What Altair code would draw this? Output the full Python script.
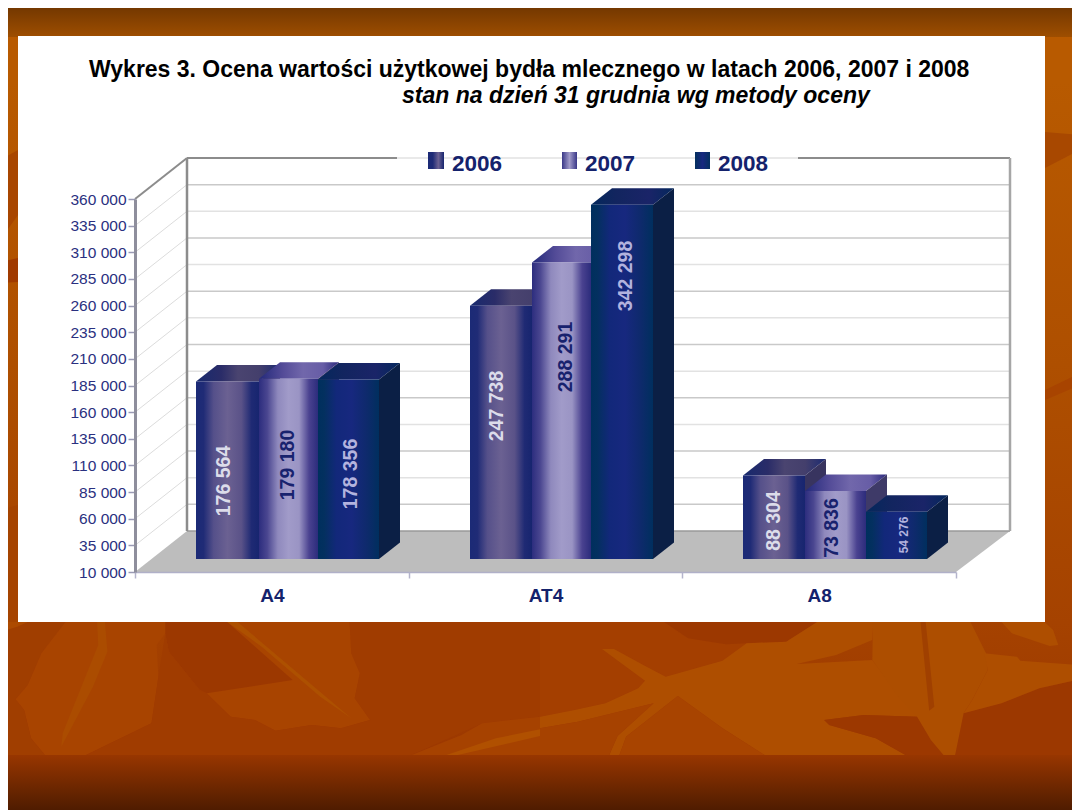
import altair as alt
import pandas as pd

# ---------- values ----------
categories = ["A4", "AT4", "A8"]
years = ["2006", "2007", "2008"]
v2006 = [176564, 247738, 88304]
v2007 = [179180, 288291, 73836]
v2008 = [178356, 342298, 54276]
tick_values = [10000 + 25000 * i for i in range(15)]
title_1 = "Wykres 3. Ocena wartości użytkowej bydła mlecznego w latach 2006, 2007 i 2008"
title_2 = "stan na dzień 31 grudnia wg metody oceny"

# ---------- layout (page pixels) ----------
AX_L, AX_R, AX_T, AX_B = 135, 956, 199, 572
PW, PH = AX_R - AX_L, AX_B - AX_T
K = 350000 / PH                 # value units per pixel
WALL_DX, WALL_DY = 52, 41
BAR_LEFT = [[196, 470, 743], [259, 532, 805], [318, 591, 866]]
BAR_RIGHT = [[259, 532, 805], [318, 591, 866], [379, 653, 927]]
LABEL_X = [[224, 497, 774], [288, 566, 832], [351, 626, 904]]
LABEL_Y = [[481, 406, 521], [465, 357, 528], [474, 276, 535]]
DX, DY = 21, 16.5
FRONT = 13
SANS = "Liberation Sans"


def yval(py):
    return 10000 + (AX_B - py) * K


def grad(stops, vertical=False):
    st = [alt.GradientStop(offset=o, color=c) for o, c in stops]
    return alt.Gradient(gradient="linear", stops=st, x1=0, x2=0 if vertical else 1,
                        y1=0, y2=1 if vertical else 0)


face = [
    grad([(0, "#1b2a76"), (.12, "#1f2b76"), (.28, "#55508a"), (.5, "#6b6192"), (.72, "#5a5288"), (.88, "#1f2a74"), (1, "#17256f")]),
    grad([(0, "#2c2d7e"), (.14, "#4a4690"), (.32, "#8f89bd"), (.5, "#a19bc9"), (.68, "#9a94c4"), (.85, "#4a4290"), (1, "#2c2c7c")]),
    grad([(0, "#002f5e"), (.1, "#03305f"), (.3, "#12287a"), (.55, "#17287f"), (.8, "#0e2a6c"), (1, "#002f5e")]),
]
top_face = [
    grad([(0, "#182a6e"), (.3, "#2a2c68"), (.5, "#4a4470"), (.75, "#443f6c"), (1, "#1b2a72")]),
    grad([(0, "#23297a"), (.3, "#544c98"), (.55, "#7167ab"), (.8, "#675da6"), (1, "#2c2a7c")]),
    grad([(0, "#04285c"), (.3, "#12255f"), (.7, "#1a2468"), (1, "#04285c")]),
]
side_face = ["#38345f", "#3e3a68", "#0b1f45"]
label_col = ["#dcdcea", "#18226e", "#b3b3de"]

# ---------- tables ----------
series = [v2006, v2007, v2008]
bars, tops, sides, labels = [], [], [], []
for s, vals in enumerate(series):
    for g, v in enumerate(vals):
        x0, x1 = BAR_LEFT[s][g], BAR_RIGHT[s][g]
        ytop = v + FRONT * K
        ybase = 10000 + FRONT * K
        d = DY * K
        bars.append(dict(s=s, x=x0, x2=x1, y=ytop, y2=ybase, value=v))
        pid = f"{s}-{g}"
        for px_, a, b in [(x0, ytop, ytop), (x0 + DX, ytop + d, ytop), (x1, ytop + d, ytop), (x1 + DX, ytop + d, ytop + d)]:
            tops.append(dict(s=s, id=pid, x=px_, y=a, y2=b))
        for px_, a, b in [(x1, ytop, ybase), (x1 + DX, ytop + d, ybase + d)]:
            sides.append(dict(s=s, id=pid, x=px_, y=a, y2=b))
        labels.append(dict(s=s, x=LABEL_X[s][g], y=yval(LABEL_Y[s][g]),
                           text=f"{v:,}".replace(",", " "),
                           big=0 if v == min(min(r) for r in series) else 1))
bars, tops, sides, labels = map(pd.DataFrame, (bars, tops, sides, labels))

y_axis = alt.Axis(orient="left", values=tick_values, labelFont=SANS, labelFontSize=15.5, labelColor="#2a3080",
                  labelExpr="replace(format(datum.value, ','), ',', ' ')", labelPadding=2,
                  tickColor="#9a9ab4", tickSize=7, tickWidth=1.5, domainColor="#8e8e9c", domainWidth=3,
                  grid=False, zindex=1, title=None)
Y_SCALE = alt.Scale(domain=[10000, 360000], nice=False, zero=False)
X = alt.X("x:Q", scale=alt.Scale(domain=[AX_L, AX_R], nice=False, zero=False), axis=None, title=None)
Y = alt.Y("y:Q", scale=Y_SCALE, axis=y_axis, title=None)


def px(v):
    return alt.value(v - AX_L)


def py(v):
    return alt.value(v - AX_T)


def box(x0, y0, x1, y1, fill):
    return alt.Chart(alt.Data(values=[{}])).mark_rect(color=fill).encode(
        x=px(x0), x2=px(x1), y=py(y0), y2=py(y1))


def poly(points, fill):
    d = "M" + " L".join(f"{a:.1f} {b:.1f}" for a, b in points) + " Z"
    return alt.Chart(alt.Data(values=[{}])).mark_point(
        shape=d, filled=True, fill=fill, size=4, opacity=1, strokeWidth=0
    ).encode(x=px(0), y=py(0))


def z7(pts):
    return [(a * 540 / 1568, 610 + b / 3) for a, b in pts]


def z8(pts):
    return [(540 + a * 540 / 1568, 610 + b / 3) for a, b in pts]


# ---------- slide background ----------
bg = [
    box(0, 0, 1080, 810, grad([(0, "#b85a00"), (.1, "#b85a00"), (.45, "#ae4f00"), (.77, "#a54200"), (.93, "#9c3800"), (1, "#9c3800")], True)),
    poly([(0, 160), (18, 150), (18, 215), (0, 240)], "#a84600"),
    poly([(0, 262), (18, 258), (18, 282), (0, 283)], "#a03a00"),
    poly([(1045, 132), (1080, 135), (1080, 150), (1045, 168)], "#a84800"),
    poly([(1045, 390), (1080, 373), (1080, 385), (1045, 400)], "#a84400"),
    poly([(0, 510), (18, 505), (18, 622), (0, 622)], "#a54400"),
    # bottom, left part
    poly(z7([(190, 36), (120, 130), (80, 225), (45, 268), (70, 300), (90, 385), (130, 435), (250, 435),
             (440, 340), (460, 200), (455, 105), (480, 70), (490, 125), (580, 240), (600, 250), (670, 320),
             (740, 330), (800, 362), (905, 345), (990, 355), (1075, 330), (1030, 265), (1045, 190),
             (1020, 130), (1015, 36)]), "#a84400"),
    poly(z7([(0, 36), (190, 36), (120, 130), (80, 225), (45, 268), (70, 300), (90, 385), (130, 435), (0, 435)]), "#a03e00"),
    poly(z7([(0, 36), (0, 66), (50, 50), (80, 36)]), "#ac4a00"),
    poly(z7([(480, 36), (660, 36), (850, 210), (600, 250), (580, 240), (490, 125), (480, 70)]), "#9c3800"),
    poly(z7([(250, 435), (440, 340), (460, 200), (480, 70), (490, 125), (580, 240), (600, 250), (670, 320), (740, 330),
             (800, 362), (905, 345), (990, 355), (1075, 330), (1030, 265), (1045, 190), (1020, 130), (1015, 36),
             (1568, 36), (1568, 320), (1400, 340), (1190, 437)]), "#a03c00"),
    poly(z7([(282, 36), (305, 36), (312, 125), (270, 230), (178, 410), (182, 370), (285, 105)]), "#ab4c00"),
    poly(z7([(660, 36), (690, 36), (1020, 325), (930, 260), (760, 110)]), "#ad5000"),
    poly(z7([(1568, 320), (1400, 340), (1340, 375), (1190, 437), (1568, 437)]), "#a64200"),
    poly(z7([(1568, 358), (1440, 385), (1290, 437), (1320, 437), (1568, 378)]), "#b05000"),
    # bottom, right part
    poly(z8([(0, 36), (360, 36), (430, 85), (540, 103), (600, 100), (530, 152), (365, 200), (300, 165), (215, 117),
             (180, 117), (305, 212), (285, 235), (190, 280), (100, 300), (0, 320)]), "#a43f00"),
    poly(z8([(360, 36), (805, 36), (715, 95), (600, 100), (540, 103), (430, 85)]), "#9c3800"),
    poly(z8([(0, 320), (100, 300), (190, 280), (285, 235), (305, 212), (180, 117), (215, 117), (300, 165), (365, 200),
             (530, 152), (600, 100), (715, 95), (805, 36), (968, 36), (965, 90), (860, 135), (745, 162), (965, 150),
             (1050, 265), (1100, 320), (940, 315), (825, 330), (840, 345), (975, 385), (1065, 437), (655, 437),
             (530, 355), (400, 258), (250, 380), (230, 437), (200, 437), (225, 378), (330, 280), (110, 335), (0, 355)]),
         "#ae4e00"),
    poly(z8([(0, 355), (110, 335), (330, 280), (225, 378), (200, 437), (0, 437)]), "#a64200"),
    poly(z8([(230, 437), (250, 380), (400, 258), (530, 355), (655, 437)]), "#a84400"),
    poly(z8([(825, 330), (940, 315), (1095, 320), (1140, 395), (1200, 437), (1065, 437), (975, 385), (840, 345)]), "#9c3800"),
    poly(z8([(1230, 310), (1340, 280), (1450, 235), (1568, 208), (1568, 437), (1205, 437), (1218, 340)]), "#9c3800"),
    poly(z8([(967, 36), (1250, 36), (1295, 130), (1300, 180), (1255, 270), (1230, 310), (1205, 437), (1200, 470),
             (1135, 390), (1095, 320), (1040, 260), (965, 150)]), "#ad4e00"),
    poly(z8([(1105, 36), (1120, 36), (1145, 290), (1130, 302)]), "#a04000"),
    poly(z8([(1290, 130), (1385, 140), (1395, 152), (1568, 165), (1568, 208), (1450, 235), (1340, 280), (1230, 310),
             (1255, 270), (1300, 180)]), "#ae4e00"),
    poly(z8([(1340, 36), (1465, 36), (1490, 60), (1505, 105), (1480, 108), (1370, 70)]), "#ae4e00"),
    box(0, 0, 1080, 37, grad([(0, "#693200"), (1, "#9e4e00")], True)),
    box(0, 755, 1080, 810, grad([(0, "#983600"), (1, "#4f1c00")], True)),
    box(18, 36, 1045, 622, "#ffffff"),
]

# ---------- chart walls ----------
grid = []
for i, t in enumerate(tick_values):
    col = "#e2e2e2" if i % 2 == 0 and 0 < i else "#c9c9c9"
    wy = t + WALL_DY * K
    if i > 0:
        grid.append(dict(x=AX_L + WALL_DX, x2=AX_R + WALL_DX + 2, y=wy, y2=wy, c=col, w=1.5))
        grid.append(dict(x=AX_L, x2=AX_L + WALL_DX, y=t, y2=wy, c="#dcdcdc", w=1))
grid = pd.DataFrame(grid)

WT = 360000 + WALL_DY * K   # wall top
WB = 10000 + WALL_DY * K    # wall bottom
edges = pd.DataFrame([
    dict(x=AX_L + WALL_DX, x2=AX_L + WALL_DX, y=WT, y2=WB, c="#8c8c8c", w=2.5),
    dict(x=AX_L, x2=AX_L + WALL_DX, y=360000, y2=WT, c="#8c8c8c", w=2),
    dict(x=AX_L + WALL_DX, x2=397, y=WT, y2=WT, c="#8c8c8c", w=2),
    dict(x=798, x2=AX_R + 54, y=WT, y2=WT, c="#8c8c8c", w=2),
    dict(x=AX_R + 54, x2=AX_R + 54, y=WT, y2=WB, c="#a6a6a6", w=2.5),
])
floor = pd.DataFrame([
    dict(x=AX_L, y=10000, y2=10000),
    dict(x=AX_L + WALL_DX, y=WB, y2=10000),
    dict(x=AX_R, y=WB, y2=10000),
    dict(x=AX_R + 54, y=WB, y2=WB),
])
floor_back = pd.DataFrame([dict(x=AX_L + WALL_DX, x2=AX_R + 54, y=WB, y2=WB, c="#9a9a9a", w=1.5)])


def rules(df):
    return alt.Chart(df).mark_rule().encode(
        x=X, x2="x2:Q", y=Y, y2="y2:Q",
        color=alt.Color("c:N", scale=None), strokeWidth=alt.StrokeWidth("w:Q", scale=None))


floor_l = alt.Chart(floor).mark_area(color="#bdbdbd").encode(x=X, y=Y, y2="y2:Q")

marks = bg + [rules(grid), floor_l, rules(floor_back), rules(edges)]

# ---------- bars ----------
for s in range(3):
    marks.append(alt.Chart(tops[tops.s == s]).mark_area(color=top_face[s]).encode(x=X, y=Y, y2="y2:Q", detail="id:N"))
    marks.append(alt.Chart(sides[sides.s == s]).mark_area(color=side_face[s]).encode(x=X, y=Y, y2="y2:Q", detail="id:N"))
    marks.append(alt.Chart(bars[bars.s == s]).mark_bar(color=face[s]).encode(x=X, x2="x2:Q", y=Y, y2="y2:Q"))
for s in range(3):
    d = labels[labels.s == s]
    marks.append(alt.Chart(d[d.big == 1]).mark_text(font=SANS, fontWeight="bold", fontSize=19.5, angle=270,
                                                    color=label_col[s]).encode(x=X, y=Y, text="text:N"))
    if (d.big == 0).any():
        marks.append(alt.Chart(d[d.big == 0]).mark_text(font=SANS, fontWeight="bold", fontSize=12, angle=270,
                                                        color=label_col[s]).encode(x=X, y=Y, text="text:N"))

# ---------- legend ----------
LEG_X = [428, 562, 695]
LEG_W = [16, 15, 15]
LEG_T = [452, 585, 718]
legend_face = [
    grad([(0, "#1b2a76"), (.3, "#1f2b76"), (.65, "#6b6192"), (1, "#17256f")]),
    grad([(0, "#3a3888"), (.5, "#a19bc9"), (1, "#3a3888")]),
    grad([(0, "#04305f"), (.5, "#17287f"), (1, "#04305f")]),
]
for i, yr in enumerate(years):
    marks.append(box(LEG_X[i], 152, LEG_X[i] + LEG_W[i], 169, legend_face[i]))
    marks.append(alt.Chart(pd.DataFrame({"t": [yr]})).mark_text(
        font=SANS, fontWeight="bold", fontSize=22.5, align="left", baseline="alphabetic", color="#14226c"
    ).encode(x=px(LEG_T[i]), y=py(171), text="t:N"))

# ---------- titles ----------
marks.append(alt.Chart(pd.DataFrame({"t": [title_1]})).mark_text(
    font=SANS, fontWeight="bold", fontSize=23, align="left", baseline="alphabetic", color="#000000"
).encode(x=px(89), y=py(77), text="t:N"))
marks.append(alt.Chart(pd.DataFrame({"t": [title_2]})).mark_text(
    font=SANS, fontWeight="bold", fontStyle="italic", fontSize=23, align="left", baseline="alphabetic", color="#000000"
).encode(x=px(402), y=py(103), text="t:N"))

# ---------- real axes ----------
axis_df = pd.DataFrame({"cat": categories, "y": [10000] * 3})
axis_layer = alt.Chart(axis_df).mark_point(opacity=0).encode(
    x=alt.X("cat:N", sort=categories, title=None,
            scale=alt.Scale(type="band", domain=categories, paddingInner=0, paddingOuter=0),
            axis=alt.Axis(orient="bottom", labelAngle=0, labelFont=SANS, labelFontWeight="bold", labelFontSize=19,
                          labelColor="#14226c", labelPadding=8, tickBand="extent", tickColor="#b4b4cc", tickSize=6,
                          tickWidth=1.5, domainColor="#b0b0c8", domainWidth=1.5, grid=False, zindex=1)),
    y=alt.Y("y:Q", title=None, scale=Y_SCALE, axis=y_axis),
)

chart = alt.layer(alt.layer(*marks), axis_layer).resolve_scale(x="independent").properties(
    width=PW, height=PH,
    autosize=alt.AutoSizeParams(type="none"),
    padding={"left": AX_L - 8, "top": AX_T - 8, "right": 1064 - (AX_R - 8), "bottom": 802 - (AX_B - 8)},
    background="#a84400",
).configure_view(stroke=None)

chart.save("out.html", embed_options={"renderer": "svg", "actions": False})
